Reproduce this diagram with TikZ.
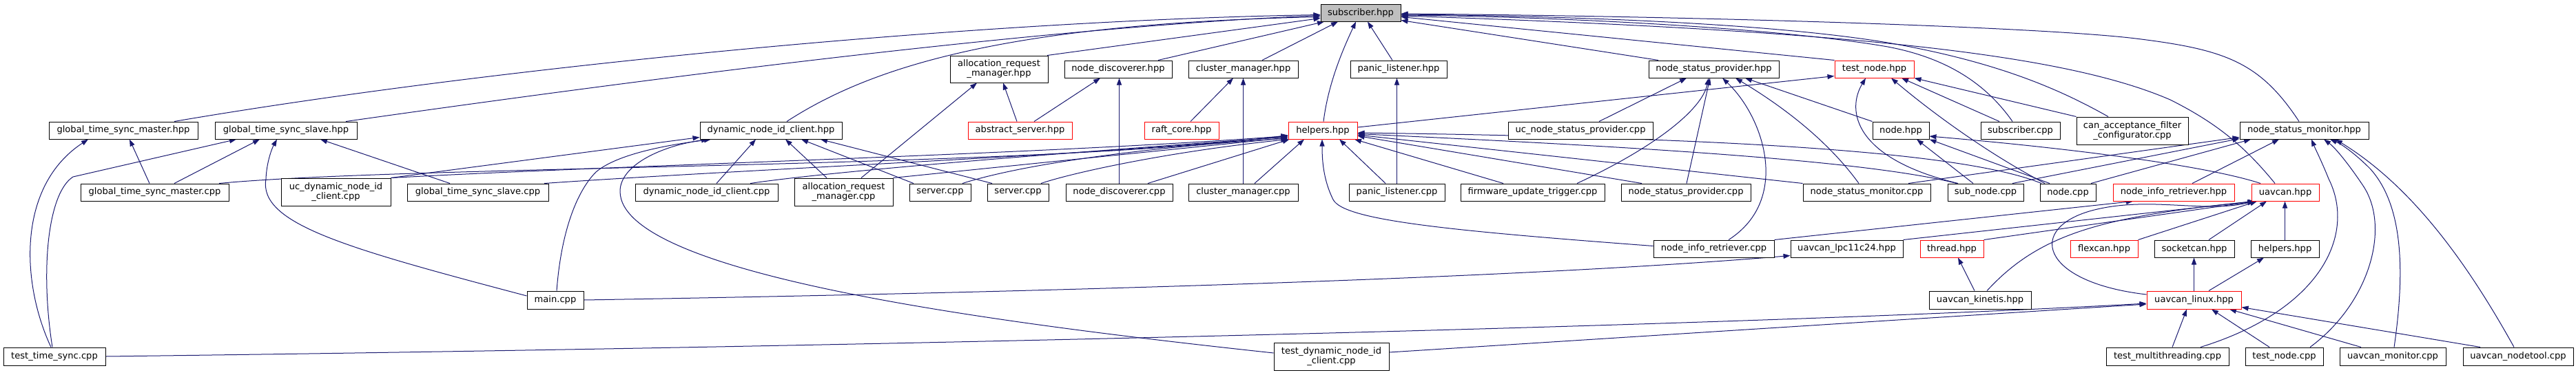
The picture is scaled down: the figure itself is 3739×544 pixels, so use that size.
\documentclass[tikz,border=0pt]{standalone}
\usepackage{fontspec}
\setmainfont{DejaVu Sans}
\usetikzlibrary{arrows.meta,calc}
\definecolor{edgeblue}{HTML}{191970}
\definecolor{subfill}{HTML}{BFBFBF}
\pgfdeclarelayer{bg}
\pgfsetlayers{bg,main}
\tikzset{
  nbox/.style={draw=black,line width=0.75pt,fill=white,inner sep=0pt,align=center,font=\fontsize{9.8}{10.6}\selectfont},
  incl/.style={edgeblue,line width=0.75pt,-{Triangle[length=7.5pt,width=5.3pt]}},
}
\newcommand\mkbox[7][]{\node[nbox,#1,minimum width={(#5-#3)*0.75pt},minimum height={(#6-#4)*0.75pt}] (#2) at ({(#3+#5)/2},{(#4+#6)/2}) {#7};}
\begin{document}
\begin{tikzpicture}[x=0.75pt,y=-0.75pt]
\useasboundingbox (0,0) rectangle (3739,544);
% row 0
\mkbox[fill=subfill]{sub}{1917}{6}{2033}{31}{subscriber.hpp}
% row A
\mkbox{armh}{1379}{81}{1521}{120}{allocation\_request\\\_manager.hpp}
\mkbox{ndh}{1545}{88}{1701}{113}{node\_discoverer.hpp}
\mkbox{cmh}{1725}{88}{1884}{113}{cluster\_manager.hpp}
\mkbox{plh}{1960}{88}{2100}{113}{panic\_listener.hpp}
\mkbox{nsph}{2393}{88}{2582}{113}{node\_status\_provider.hpp}
\mkbox[draw=red]{tnh}{2663}{88}{2778}{113}{test\_node.hpp}
% row B
\mkbox{gtsmh}{71}{177}{287}{202}{global\_time\_sync\_master.hpp}
\mkbox{gtssh}{312}{177}{518}{202}{global\_time\_sync\_slave.hpp}
\mkbox{dnich}{1016}{177}{1222}{202}{dynamic\_node\_id\_client.hpp}
\mkbox[draw=red]{absh}{1405}{177}{1556}{202}{abstract\_server.hpp}
\mkbox[draw=red]{raft}{1661}{177}{1769}{202}{raft\_core.hpp}
\mkbox[draw=red]{helph}{1870}{177}{1970}{202}{helpers.hpp}
\mkbox{ucnsp}{2189}{177}{2399}{202}{uc\_node\_status\_provider.cpp}
\mkbox{nodeh}{2718}{177}{2800}{202}{node.hpp}
\mkbox{subcpp}{2875}{177}{2990}{202}{subscriber.cpp}
\mkbox{canacc}{3014}{170}{3176}{210}{can\_acceptance\_filter\\\_configurator.cpp}
\mkbox{nsmh}{3251}{177}{3438}{202}{node\_status\_monitor.hpp}
% row C
\mkbox{gtsmc}{117}{267}{332}{292}{global\_time\_sync\_master.cpp}
\mkbox{ucdnic}{408}{259}{567}{299}{uc\_dynamic\_node\_id\\\_client.cpp}
\mkbox{gtssc}{591}{267}{796}{292}{global\_time\_sync\_slave.cpp}
\mkbox{dnicc}{922}{267}{1129}{292}{dynamic\_node\_id\_client.cpp}
\mkbox{armc}{1153}{259}{1296}{299}{allocation\_request\\\_manager.cpp}
\mkbox{srva}{1320}{267}{1409}{292}{server.cpp}
\mkbox{srvb}{1433}{267}{1522}{292}{server.cpp}
\mkbox{ndc}{1547}{267}{1702}{292}{node\_discoverer.cpp}
\mkbox{cmc}{1725}{267}{1884}{292}{cluster\_manager.cpp}
\mkbox{plc}{1958}{267}{2097}{292}{panic\_listener.cpp}
\mkbox{fut}{2120}{267}{2329}{292}{firmware\_update\_trigger.cpp}
\mkbox{nspc}{2353}{267}{2541}{292}{node\_status\_provider.cpp}
\mkbox{nsmc}{2617}{267}{2802}{292}{node\_status\_monitor.cpp}
\mkbox{subnode}{2827}{267}{2937}{292}{sub\_node.cpp}
\mkbox{nodecpp}{2961}{267}{3042}{292}{node.cpp}
\mkbox[draw=red]{nirh}{3067}{267}{3243}{292}{node\_info\_retriever.hpp}
\mkbox[draw=red]{uavh}{3268}{267}{3366}{292}{uavcan.hpp}
% row D
\mkbox{nirc}{2400}{349}{2575}{374}{node\_info\_retriever.cpp}
\mkbox{lpc}{2599}{349}{2762}{374}{uavcan\_lpc11c24.hpp}
\mkbox[draw=red]{thread}{2787}{349}{2879}{374}{thread.hpp}
\mkbox[draw=red]{flex}{3005}{349}{3103}{374}{flexcan.hpp}
\mkbox{sock}{3127}{349}{3243}{374}{socketcan.hpp}
\mkbox{helphb}{3267}{349}{3366}{374}{helpers.hpp}
% row E
\mkbox{maincpp}{765}{423}{847}{449}{main.cpp}
\mkbox{kin}{2800}{423}{2948}{449}{uavcan\_kinetis.hpp}
\mkbox[draw=red]{linux}{3116}{423}{3253}{449}{uavcan\_linux.hpp}
% row F
\mkbox{tts}{5}{505}{153}{531}{test\_time\_sync.cpp}
\mkbox{tdnic}{1849}{498}{2016}{538}{test\_dynamic\_node\_id\\\_client.cpp}
\mkbox{tmt}{3057}{505}{3235}{531}{test\_multithreading.cpp}
\mkbox{tnc}{3259}{505}{3372}{531}{test\_node.cpp}
\mkbox{umon}{3396}{505}{3550}{531}{uavcan\_monitor.cpp}
\mkbox{utool}{3575}{505}{3735}{531}{uavcan\_nodetool.cpp}

\begin{pgfonlayer}{bg}
% into subscriber.hpp
\draw[incl] ($(gtsmh.north)+(74,0)$) .. controls (700,100) and (1400,30) .. ($(sub.west)+(0,3)$);
\draw[incl] ($(gtssh.north)+(87,0)$) .. controls (900,120) and (1500,40) .. ($(sub.west)+(0,4)$);
\draw[incl] ($(dnich.north)+(23,0)$) .. controls (1260,100) and (1450,35) .. ($(sub.west)+(0,6)$);
\draw[incl] ($(armh.north)+(70,0)$) -- ($(sub.west)+(0,8)$);
\draw[incl] ($(ndh.north)+(58,0)$) -- ($(sub.south)+(-53,0)$);
\draw[incl] ($(cmh.north)+(27.5,0)$) -- ($(sub.south)+(-33,0)$);
\draw[incl] ($(helph.north)+(1,0)$) .. controls (1928,120) and (1950,70) .. ($(sub.south)+(-7,0)$);
\draw[incl] ($(plh.north)+(-9,0)$) -- ($(sub.south)+(10,0)$);
\draw[incl] ($(nsph.north)+(-80.5,0)$) -- ($(sub.south east)+(0,-2)$);
\draw[incl] (tnh.north west) -- ($(sub.east)+(0,6)$);
\draw[incl] ($(subcpp.north)+(-11.5,0)$) .. controls (2885,125) and (2830,85) .. (2740,68) .. controls (2580,40) and (2250,24) .. ($(sub.east)+(0,3.5)$);
\draw[incl] ($(canacc.north)+(-35,0)$) .. controls (2990,130) and (2900,90) .. (2740,62) .. controls (2560,32) and (2250,23) .. ($(sub.east)+(0,2.5)$);
\draw[incl] ($(nsmh.north)+(-7.5,0)$) .. controls (3280,90) and (3230,72) .. (3100,56) .. controls (2970,40) and (2500,24) .. ($(sub.east)+(0,1.5)$);
\draw[incl] ($(uavh.north)+(-15,0)$) .. controls (3260,215) and (3220,180) .. (3150,145) .. controls (3000,80) and (2700,45) .. ($(sub.east)+(0,4.5)$);
% into global_time_sync_master.hpp
\draw[incl] ($(gtsmc.north)+(-7.5,0)$) -- ($(gtsmh.south)+(9,0)$);
\draw[incl] ($(tts.north)+(-5,0)$) .. controls (30,410) and (25,270) .. ($(gtsmh.south)+(-51,0)$);
% into global_time_sync_slave.hpp
\draw[incl] ($(tts.north)+(-3,0)$) .. controls (58,390) and (70,280) .. (106,257) -- ($(gtssh.south)+(-72,0)$);
\draw[incl] ($(gtsmc.north)+(28.5,0)$) -- ($(gtssh.south)+(-38,0)$);
\draw[incl] ($(maincpp.west)+(0,-6)$) .. controls (500,360) and (375,325) .. (386,260) .. controls (387,235) and (395,215) .. ($(gtssh.south)+(-13,0)$);
\draw[incl] ($(gtssc.north)+(-40.5,0)$) -- ($(gtssh.south)+(50,0)$);
% into dynamic_node_id_client.hpp
\draw[incl] (ucdnic.north east) -- ($(dnich.south west)+(0,-3)$);
\draw[incl] ($(tdnic.west)+(0,-5)$) .. controls (1450,470) and (900,400) .. (900,278) .. controls (900,240) and (960,212) .. ($(dnich.south)+(-91,0)$);
\draw[incl] ($(maincpp.north)+(2,0)$) .. controls (815,330) and (840,275) .. (865,250) .. controls (900,220) and (990,208) .. ($(dnich.south)+(-87,0)$);
\draw[incl] ($(dnicc.north)+(14.5,0)$) -- ($(dnich.south)+(-22,0)$);
\draw[incl] ($(armc.north)+(-24.5,0)$) -- ($(dnich.south)+(21,0)$);
\draw[incl] ($(srva.north)+(-38.5,0)$) -- ($(dnich.south)+(44,0)$);
\draw[incl] ($(srvb.north)+(-37.5,0)$) -- ($(dnich.south)+(72,0)$);
% into allocation_request_manager.hpp
\draw[incl] ($(armc.north)+(25.5,0)$) -- ($(armh.south)+(-32,0)$);
\draw[incl] ($(absh.north)+(-4.5,0)$) -- ($(armh.south)+(6,0)$);
% into node_discoverer.hpp
\draw[incl] ($(absh.north)+(20.5,0)$) -- ($(ndh.south)+(-26,0)$);
\draw[incl] (ndc.north) -- (ndc.north |- ndh.south);
% into cluster_manager.hpp
\draw[incl] ($(raft.north)+(13,0)$) -- ($(cmh.south)+(-14.5,0)$);
\draw[incl] (cmc.north) -- (cmc.north |- cmh.south);
% into panic_listener.hpp
\draw[incl] (plc.north) -- (plc.north |- plh.south);
% into helpers.hpp
\draw[incl] ($(gtsmc.north)+(93.5,0)$) .. controls (600,240) and (1500,245) .. ($(helph.west)+(0,7)$);
\draw[incl] (ucdnic.north east) .. controls (900,240) and (1500,225) .. ($(helph.west)+(0,8)$);
\draw[incl] ($(gtssc.north)+(96.5,0)$) .. controls (1100,245) and (1600,225) .. ($(helph.west)+(0,8.5)$);
\draw[incl] ($(dnicc.north)+(63.5,0)$) .. controls (1200,250) and (1500,225) .. ($(helph.west)+(0,9.5)$);
\draw[incl] (armc.north east) -- ($(helph.west)+(0,10.5)$);
\draw[incl] ($(srva.north)+(32.5,0)$) .. controls (1480,240) and (1650,215) .. ($(helph.west)+(0,11.5)$);
\draw[incl] ($(srvb.north)+(33.5,0)$) .. controls (1560,250) and (1700,220) .. (helph.south west);
\draw[incl] ($(ndc.north)+(41.5,0)$) -- ($(helph.south west)+(2,0)$);
\draw[incl] ($(cmc.north)+(16.5,0)$) -- ($(helph.south)+(-27,0)$);
\draw[incl] ($(nirc.west)+(0,-4)$) .. controls (2100,335) and (1950,320) .. (1935,290) .. controls (1920,260) and (1919,230) .. ($(helph.south)+(-1,0)$);
\draw[incl] ($(plc.north)+(-16.5,0)$) -- ($(helph.south)+(24,0)$);
\draw[incl] ($(fut.north)+(-42.5,0)$) -- ($(helph.south)+(46,0)$);
\draw[incl] ($(nspc.north)+(-64,0)$) -- ($(helph.east)+(0,8)$);
\draw[incl] (nsmc.north west) -- ($(helph.east)+(0,6.5)$);
\draw[incl] ($(subnode.north)+(-42,0)$) .. controls (2700,230) and (2300,210) .. ($(helph.east)+(0,5)$);
\draw[incl] ($(nodecpp.north)+(-38.5,0)$) .. controls (2850,220) and (2500,200) .. ($(helph.east)+(0,3.5)$);
% into test_node.hpp
\draw[incl] ($(helph.east)+(0,-4.5)$) -- ($(tnh.south west)+(0,-3)$);
\draw[incl] ($(subnode.north)+(-40,0)$) .. controls (2690,230) and (2680,160) .. ($(tnh.south)+(-12.5,0)$);
\draw[incl] ($(nodecpp.north)+(-33.5,0)$) .. controls (2880,220) and (2800,160) .. ($(tnh.south)+(24.5,0)$);
\draw[incl] ($(subcpp.north)+(-30.5,0)$) -- ($(tnh.south)+(39.5,0)$);
\draw[incl] (canacc.north west) -- (tnh.south east);
% into node_status_provider.hpp
\draw[incl] ($(ucnsp.north)+(27,0)$) -- ($(nsph.south)+(-39.5,0)$);
\draw[incl] ($(fut.north)+(64.5,0)$) .. controls (2400,215) and (2470,160) .. ($(nsph.south)+(-7.5,0)$);
\draw[incl] ($(nspc.north)+(1,0)$) -- ($(nsph.south)+(-5.5,0)$);
\draw[incl] ($(nirc.north)+(21.5,0)$) .. controls (2600,290) and (2560,170) .. ($(nsph.south)+(12.5,0)$);
\draw[incl] ($(nsmc.north)+(-11.5,0)$) .. controls (2650,200) and (2580,150) .. ($(nsph.south)+(31.5,0)$);
\draw[incl] (nodeh.north west) -- ($(nsph.south)+(45.5,0)$);
% into node.hpp
\draw[incl] ($(subnode.north)+(-18,0)$) -- ($(nodeh.south)+(23,0)$);
\draw[incl] ($(nodecpp.north)+(-26.5,0)$) -- (nodeh.south east);
\draw[incl] ($(uavh.north)+(-36,0)$) .. controls (3200,240) and (3000,215) .. ($(nodeh.east)+(0,8.5)$);
% into node_status_monitor.hpp
\draw[incl] ($(nsmc.north)+(60.5,0)$) -- ($(nsmh.south west)+(0,-3)$);
\draw[incl] ($(subnode.north)+(39,0)$) -- ($(nsmh.south west)+(0,-1)$);
\draw[incl] ($(nodecpp.north)+(33.5,0)$) -- ($(nsmh.south)+(-77.5,0)$);
\draw[incl] ($(nirh.north)+(27,0)$) -- ($(nsmh.south)+(-36.5,0)$);
\draw[incl] ($(tmt.north)+(48,0)$) .. controls (3370,450) and (3420,340) .. (3380,260) .. controls (3370,235) and (3360,215) .. ($(nsmh.south)+(10.5,0)$);
\draw[incl] ($(tnc.north)+(37.5,0)$) .. controls (3440,440) and (3470,330) .. (3430,270) .. controls (3410,240) and (3390,215) .. ($(nsmh.south)+(28.5,0)$);
\draw[incl] ($(umon.north)+(2,0)$) .. controls (3490,400) and (3490,300) .. (3440,245) .. controls (3420,225) and (3400,210) .. ($(nsmh.south)+(37.5,0)$);
\draw[incl] ($(utool.north)+(-6,0)$) .. controls (3580,380) and (3500,270) .. ($(nsmh.south)+(45.5,0)$);
% into node_info_retriever.hpp
\draw[incl] (nirc.north east) -- ($(nirh.south)+(-59,0)$);
% into uavcan.hpp
\draw[incl] (helphb.north) -- (helphb.north |- uavh.south);
\draw[incl] ($(sock.north)+(21,0)$) -- ($(uavh.south)+(-27,0)$);
\draw[incl] ($(linux.west)+(0,-8)$) .. controls (2960,410) and (2940,330) .. (3040,305) .. controls (3120,285) and (3200,310) .. ($(uavh.south)+(-45,0)$);
\draw[incl] ($(kin.north)+(10,0)$) .. controls (2960,340) and (3050,315) .. ($(uavh.south)+(-44,0)$);
\draw[incl] (lpc.north east) -- ($(uavh.south)+(-44.5,0)$);
\draw[incl] (thread.north east) -- ($(uavh.south)+(-43,0)$);
\draw[incl] (flex.north east) -- ($(uavh.south)+(-41,0)$);
% into uavcan_lpc11c24.hpp
\draw[incl] (maincpp.east) .. controls (1500,425) and (2200,405) .. ($(lpc.west)+(0,10)$);
% into thread.hpp
\draw[incl] ($(kin.north)+(-8,0)$) -- ($(thread.south)+(9,0)$);
% into socketcan.hpp and helpers.hpp
\draw[incl] (linux.north) -- (linux.north |- sock.south);
\draw[incl] ($(linux.north)+(21.5,0)$) -- ($(helphb.south)+(-30.5,0)$);
% into uavcan_linux.hpp
\draw[incl] (tts.east) .. controls (1200,505) and (2500,475) .. ($(linux.west)+(0,5)$);
\draw[incl] ($(tdnic.east)+(0,-6)$) -- ($(linux.west)+(0,6)$);
\draw[incl] ($(tmt.north)+(7,0)$) -- ($(linux.south)+(-10.5,0)$);
\draw[incl] ($(tnc.north)+(-21.5,0)$) -- ($(linux.south)+(25.5,0)$);
\draw[incl] ($(umon.north)+(-46,0)$) -- ($(linux.south)+(51.5,0)$);
\draw[incl] ($(utool.north)+(-55,0)$) -- ($(linux.south east)+(0,-3)$);
\end{pgfonlayer}
\end{tikzpicture}
\end{document}
